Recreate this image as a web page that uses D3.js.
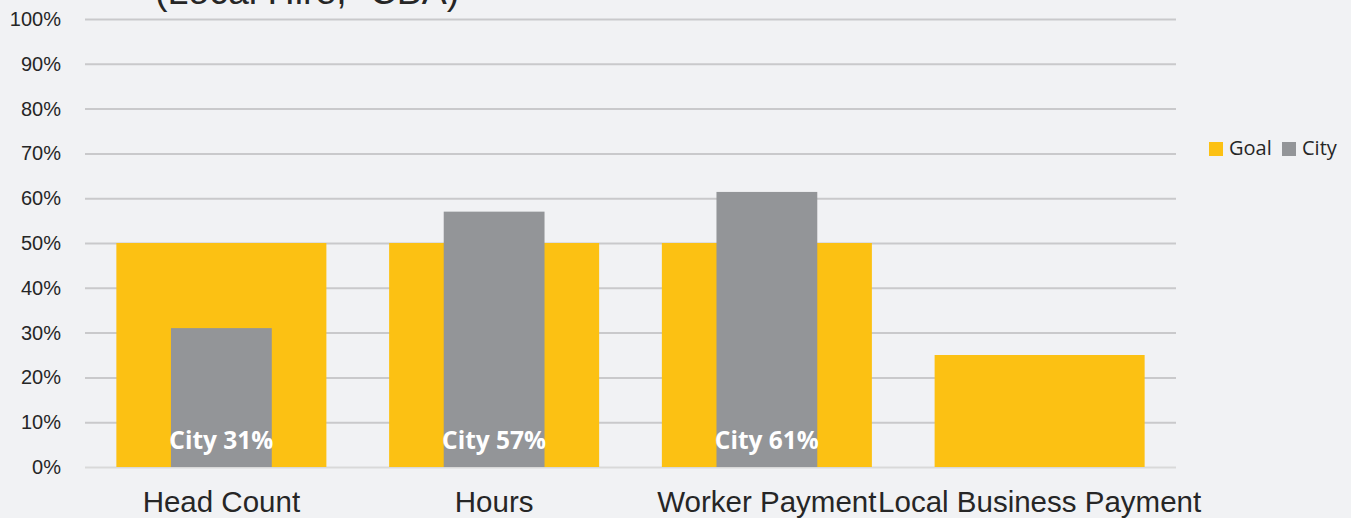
<!DOCTYPE html>
<html lang="en">
<head>
  <meta charset="UTF-8">
  <title>Local Hire</title>
  <style>
    body { margin: 0; background: #f1f2f4; }
    svg { display: block; }
  </style>
</head>
<body>
  <svg id="chart" width="1351" height="518"></svg>
<script src="https://cdnjs.cloudflare.com/ajax/libs/d3/7.8.5/d3.min.js"></script>
<script>
  // values
  let categories = ["Head Count", "Hours", "Worker Payment", "Local Business Payment"]
  let goalValues = [0.50, 0.50, 0.50, 0.25]
  let cityValues = [0.31, 0.57, 0.614, null]
  let cityLabels = ["City 31%", "City 57%", "City 61%", null]
  let yTicks = [0, 0.1, 0.2, 0.3, 0.4, 0.5, 0.6, 0.7, 0.8, 0.9, 1]
  let legendItems = [{name: "Goal", color: "#fcc113"}, {name: "City", color: "#939598"}]

  let svg = d3.select("#chart")
  let mLeft = 85, mRight = 1176, mTop = 19, mBottom = 467

  let x = d3.scaleBand().domain(categories).range([mLeft, mRight])
            .paddingInner(0.23).paddingOuter(0.115)
  let y = d3.scaleLinear().domain([0, 1]).range([mBottom, mTop])

  // title, mostly cut off at the top
  svg.append("text")
     .attr("x", 155).attr("y", 4)
     .attr("font-family", "Liberation Sans, Arial, sans-serif")
     .attr("font-size", 37.5).attr("fill", "#262626")
     .text("(Local Hire, \u02ddCBA)")

  // grid + y axis
  let yAxis = svg.append("g")
     .attr("transform", `translate(${mLeft},0)`)
     .call(d3.axisLeft(y).tickValues(yTicks).tickFormat(d3.format(".0%"))
             .tickSize(-(mRight - mLeft)).tickPadding(24))
  yAxis.select(".domain").remove()
  yAxis.selectAll("line").attr("stroke", d => d === 0 ? "#d9d9d9" : "#c9c9cb").attr("stroke-width", 2)
  yAxis.selectAll("text")
     .attr("font-family", "Liberation Sans, Arial, sans-serif")
     .attr("font-size", 20).attr("fill", "#262626")

  let rows = categories.map((c, i) => ({cat: c, goal: goalValues[i], city: cityValues[i], label: cityLabels[i]}))

  svg.append("g").selectAll("rect")
     .data(rows).enter().append("rect")
     .attr("x", d => x(d.cat))
     .attr("width", x.bandwidth())
     .attr("y", d => y(d.goal))
     .attr("height", d => y(0) - y(d.goal))
     .attr("fill", "#fcc113")

  let cityRows = rows.filter(d => d.city != null)
  let cw = x.bandwidth() * 0.48

  svg.append("g").selectAll("rect")
     .data(cityRows).enter().append("rect")
     .attr("x", d => x(d.cat) + (x.bandwidth() - cw) / 2)
     .attr("width", cw)
     .attr("y", d => y(d.city))
     .attr("height", d => y(0) - y(d.city))
     .attr("fill", "#939598")

  svg.append("g").selectAll("text")
     .data(cityRows).enter().append("text")
     .attr("x", d => x(d.cat) + x.bandwidth() / 2)
     .attr("y", y(0) - 18)
     .attr("text-anchor", "middle")
     .attr("font-family", "Open Sans, sans-serif")
     .attr("font-weight", "bold")
     .attr("font-size", 24.5)
     .attr("fill", "#ffffff")
     .text(d => d.label)

  // category labels
  svg.append("g").selectAll("text")
     .data(categories).enter().append("text")
     .attr("x", d => x(d) + x.bandwidth() / 2)
     .attr("y", 512)
     .attr("text-anchor", "middle")
     .attr("font-family", "Liberation Sans, Arial, sans-serif")
     .attr("font-size", 29.5)
     .attr("fill", "#262626")
     .text(d => d)

  // legend
  let lg = svg.append("g").attr("transform", "translate(1209,142)")
  let item = lg.selectAll("g").data(legendItems).enter().append("g")
     .attr("transform", (d, i) => `translate(${i * 73},0)`)
  item.append("rect").attr("width", 14).attr("height", 14).attr("fill", d => d.color)
  item.append("text").attr("x", 20).attr("y", 13)
     .attr("font-family", "Open Sans, sans-serif").attr("font-size", 20).attr("fill", "#262626")
     .text(d => d.name)
</script>
</body>
</html>
